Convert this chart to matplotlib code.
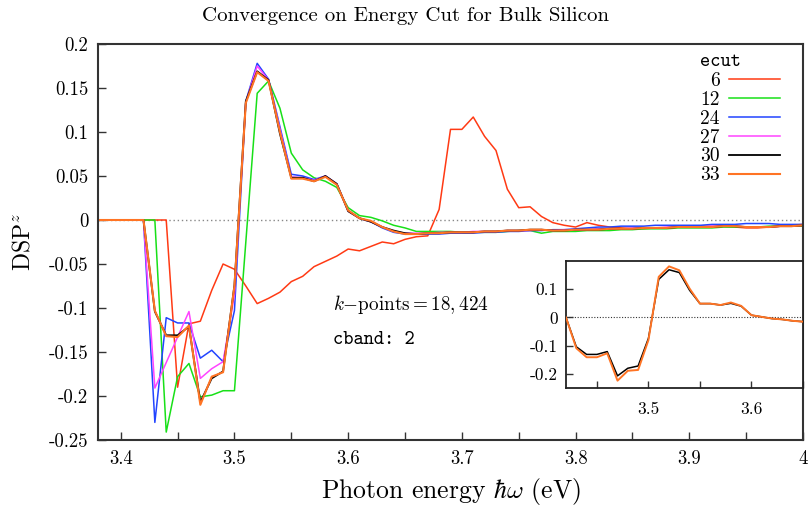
import matplotlib
matplotlib.use("Agg")
import matplotlib.pyplot as plt
from matplotlib.ticker import FixedLocator, FuncFormatter, MultipleLocator

plt.rcParams['font.family'] = 'cmr10'
plt.rcParams['mathtext.fontset'] = 'cm'
plt.rcParams['axes.unicode_minus'] = False
plt.rcParams['axes.formatter.use_mathtext'] = True

# ---------------- data ----------------
energy = [3.38, 3.39, 3.40, 3.41, 3.42, 3.43, 3.44, 3.45, 3.46, 3.47,
          3.48, 3.49, 3.50, 3.51, 3.52, 3.53, 3.54, 3.55, 3.56, 3.57,
          3.58, 3.59, 3.60, 3.61, 3.62, 3.63, 3.64, 3.65, 3.66, 3.67,
          3.68, 3.69, 3.70, 3.71, 3.72, 3.73, 3.74, 3.75, 3.76, 3.77,
          3.78, 3.79, 3.80, 3.81, 3.82, 3.83, 3.84, 3.85, 3.86, 3.87,
          3.88, 3.89, 3.90, 3.91, 3.92, 3.93, 3.94, 3.95, 3.96, 3.97,
          3.98, 3.99, 4.00]

ecut6 = [0, 0, 0, 0, 0, 0, 0, -0.190, -0.118, -0.115,
         -0.080, -0.050, -0.056, -0.075, -0.095, -0.089, -0.082, -0.070, -0.064, -0.053,
         -0.047, -0.041, -0.033, -0.035, -0.030, -0.025, -0.027, -0.022, -0.019, -0.018,
         0.012, 0.103, 0.103, 0.117, 0.095, 0.079, 0.035, 0.014, 0.015, 0.004,
         -0.003, -0.006, -0.008, -0.003, -0.006, -0.008, -0.009, -0.010, -0.010, -0.009,
         -0.009, -0.008, -0.008, -0.007, -0.007, -0.007, -0.008, -0.009, -0.009, -0.008,
         -0.007, -0.006, -0.005]

ecut12 = [0, 0, 0, 0, 0, 0, -0.241, -0.178, -0.163, -0.201,
          -0.199, -0.194, -0.194, -0.025, 0.144, 0.158, 0.127, 0.076, 0.057, 0.048,
          0.044, 0.037, 0.014, 0.005, 0.003, -0.001, -0.006, -0.009, -0.013, -0.013,
          -0.013, -0.013, -0.014, -0.014, -0.014, -0.014, -0.013, -0.012, -0.012, -0.015,
          -0.013, -0.013, -0.013, -0.012, -0.012, -0.012, -0.011, -0.011, -0.010, -0.010,
          -0.010, -0.009, -0.009, -0.009, -0.009, -0.008, -0.008, -0.008, -0.008, -0.007,
          -0.007, -0.007, -0.007]

ecut24 = [0, 0, 0, 0, 0, -0.230, -0.111, -0.117, -0.117, -0.157,
          -0.148, -0.161, -0.103, 0.135, 0.178, 0.160, 0.106, 0.052, 0.050, 0.046,
          0.050, 0.041, 0.011, 0.002, -0.002, -0.009, -0.014, -0.016, -0.016, -0.016,
          -0.016, -0.015, -0.015, -0.015, -0.014, -0.014, -0.013, -0.013, -0.012, -0.012,
          -0.011, -0.011, -0.010, -0.009, -0.008, -0.008, -0.007, -0.007, -0.007, -0.006,
          -0.006, -0.006, -0.006, -0.006, -0.005, -0.005, -0.005, -0.004, -0.004, -0.004,
          -0.005, -0.005, -0.005]

ecut27 = [0, 0, 0, 0, 0, -0.191, -0.162, -0.133, -0.104, -0.180,
          -0.169, -0.161, -0.085, 0.134, 0.175, 0.159, 0.103, 0.049, 0.048, 0.045,
          0.050, 0.041, 0.010, 0.002, -0.002, -0.008, -0.013, -0.015, -0.015, -0.015,
          -0.014, -0.014, -0.014, -0.013, -0.013, -0.013, -0.012, -0.012, -0.012, -0.011,
          -0.012, -0.011, -0.011, -0.011, -0.010, -0.010, -0.010, -0.009, -0.009, -0.009,
          -0.008, -0.008, -0.008, -0.008, -0.007, -0.007, -0.007, -0.008, -0.008, -0.008,
          -0.007, -0.007, -0.006]

ecut30 = [0, 0, 0, 0, 0, -0.104, -0.131, -0.131, -0.121, -0.207,
          -0.180, -0.172, -0.074, 0.135, 0.169, 0.159, 0.098, 0.048, 0.048, 0.044,
          0.050, 0.041, 0.010, 0.002, -0.002, -0.008, -0.012, -0.015, -0.016, -0.015,
          -0.015, -0.014, -0.014, -0.014, -0.013, -0.013, -0.012, -0.012, -0.011, -0.011,
          -0.012, -0.012, -0.011, -0.011, -0.011, -0.010, -0.010, -0.010, -0.009, -0.009,
          -0.009, -0.008, -0.008, -0.008, -0.008, -0.007, -0.007, -0.008, -0.008, -0.008,
          -0.007, -0.007, -0.006]

ecut33 = [0, 0, 0, 0, 0, -0.103, -0.132, -0.133, -0.120, -0.210,
          -0.178, -0.173, -0.075, 0.133, 0.168, 0.158, 0.100, 0.047, 0.047, 0.044,
          0.049, 0.040, 0.011, 0.002, -0.001, -0.008, -0.013, -0.016, -0.016, -0.015,
          -0.015, -0.014, -0.014, -0.014, -0.013, -0.013, -0.012, -0.012, -0.011, -0.011,
          -0.012, -0.012, -0.011, -0.011, -0.011, -0.010, -0.010, -0.010, -0.009, -0.009,
          -0.009, -0.008, -0.008, -0.008, -0.008, -0.007, -0.007, -0.008, -0.008, -0.008,
          -0.007, -0.007, -0.006]

# inset (zoom 3.42 - 3.65)
inset_energy = [3.42, 3.43, 3.44, 3.45, 3.46, 3.47, 3.48, 3.49, 3.50, 3.51,
                3.52, 3.53, 3.54, 3.55, 3.56, 3.57, 3.58, 3.59, 3.60, 3.61,
                3.62, 3.63, 3.64, 3.65]
inset_ecut30 = [0, -0.104, -0.131, -0.131, -0.121, -0.207, -0.180, -0.172, -0.074, 0.135,
                0.169, 0.159, 0.096, 0.049, 0.049, 0.044, 0.050, 0.040, 0.008, 0.002,
                -0.004, -0.007, -0.012, -0.015]
inset_ecut33 = [0, -0.109, -0.141, -0.141, -0.127, -0.224, -0.189, -0.186, -0.080, 0.144,
                0.181, 0.167, 0.102, 0.049, 0.049, 0.044, 0.053, 0.041, 0.008, 0.002,
                -0.004, -0.007, -0.012, -0.015]

labels = ['6', '12', '24', '27', '30', '33']
colors = ['#ff3a14', '#18e018', '#2244ff', '#ff44ff', '#000000', '#ff7424']
series = [ecut6, ecut12, ecut24, ecut27, ecut30, ecut33]
widths = [1.1, 1.1, 1.1, 1.1, 1.3, 1.5]

x_ticks = [3.4, 3.5, 3.6, 3.7, 3.8, 3.9, 4.0]
y_ticks = [0.2, 0.15, 0.1, 0.05, 0, -0.05, -0.1, -0.15, -0.2, -0.25]
inset_x_ticks = [3.5, 3.6]
inset_y_ticks = [0.1, 0, -0.1, -0.2]

# ---------------- figure ----------------
W, H = 811, 515
fig = plt.figure(figsize=(W / 100, H / 100), dpi=100)
L, R, T, B = 98, 803, 44, 440
ax = fig.add_axes([L / W, 1 - B / H, (R - L) / W, (B - T) / H])

fmt = FuncFormatter(lambda v, p: ('%g' % round(v, 4)) if abs(v) > 1e-9 else '0')

ax.axhline(0, color='#888888', lw=1.0, ls=(0, (1, 2)), zorder=1)
handles = []
for ys, lab, c, lw in zip(series, labels, colors, widths):
    h, = ax.plot(energy, ys, color=c, lw=lw, label=lab, zorder=2)
    handles.append(h)

ax.set_xlim(3.38, 4.0)
ax.set_ylim(-0.25, 0.2)
ax.xaxis.set_major_locator(FixedLocator(x_ticks))
ax.xaxis.set_minor_locator(MultipleLocator(0.05))
ax.yaxis.set_major_locator(FixedLocator(y_ticks))
ax.xaxis.set_major_formatter(fmt)
ax.yaxis.set_major_formatter(fmt)
ax.tick_params(which='both', direction='in', length=6, width=1.0, top=False, right=False,
               labelsize=13.5, color='#333333')
ax.tick_params(axis='x', pad=7)
ax.tick_params(axis='y', pad=7)
for s in ax.spines.values():
    s.set_linewidth(1.5)
    s.set_color('#333333')

fig.text(0.5, 1 - 16 / H, 'Convergence on Energy Cut for Bulk Silicon', fontsize=15,
         ha='center', va='center')
ax.set_xlabel(r'Photon energy $\hbar\omega$ (eV)', fontsize=18.5, labelpad=6)
ax.set_ylabel(r'$\mathrm{DSP}^z$', fontsize=17, labelpad=10)

ax.text(0.333, 0.341, r'$k{-}\mathrm{points} = 18,424$', transform=ax.transAxes,
        fontsize=13.8, va='center', ha='left')
ax.text(0.333, 0.252, 'cband: 2', transform=ax.transAxes,
        fontsize=14, va='center', ha='left', family='cmtt10')

ax.legend(handles=handles, labels=labels, loc='upper right', frameon=False,
          markerfirst=False, fontsize=14, title='ecut', alignment='left',
          title_fontproperties={'family': 'cmtt10', 'size': 14},
          handlelength=2.6, handletextpad=0.5, labelspacing=0.05,
          borderpad=0, borderaxespad=0,
          bbox_to_anchor=((780 - L) / (R - L), (B - 53) / (B - T)))

# ---------------- inset ----------------
iL, iR, iT, iB = 566, 803, 261, 388
axin = fig.add_axes([iL / W, 1 - iB / H, (iR - iL) / W, (iB - iT) / H])
axin.axhline(0, color='#333333', lw=0.8, ls=(0, (1, 1.5)), zorder=1)
axin.plot(inset_energy, inset_ecut30, color=colors[4], lw=1.1, zorder=2)
axin.plot(inset_energy, inset_ecut33, color=colors[5], lw=1.4, zorder=3)
axin.set_xlim(3.42, 3.65)
axin.set_ylim(-0.25, 0.2)
axin.xaxis.set_major_locator(FixedLocator(inset_x_ticks))
axin.xaxis.set_minor_locator(MultipleLocator(0.05))
axin.yaxis.set_major_locator(FixedLocator(inset_y_ticks))
axin.xaxis.set_major_formatter(fmt)
axin.yaxis.set_major_formatter(fmt)
axin.tick_params(which='both', direction='in', length=5, width=1.0, top=False, right=False,
                 labelsize=12.5, color='#333333')
axin.tick_params(axis='x', pad=10)
axin.tick_params(axis='y', pad=6)
for s in axin.spines.values():
    s.set_linewidth(1.3)
    s.set_color('#222222')

fig.savefig('out.png', dpi=100)
